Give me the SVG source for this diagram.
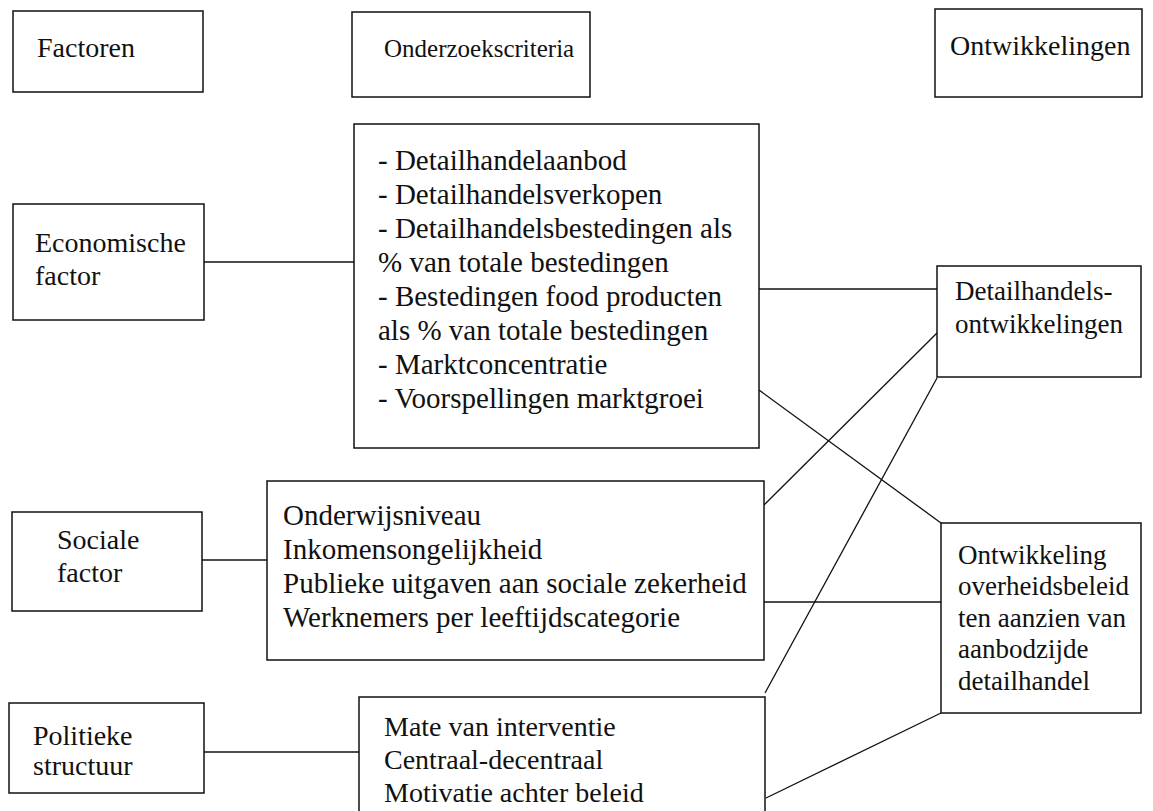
<svg xmlns="http://www.w3.org/2000/svg" width="1153" height="811" viewBox="0 0 1153 811">
<style>
.box{fill:#fff;stroke:#111;stroke-width:1.5}
.t{font-family:"Liberation Serif","Times New Roman",serif;fill:#111}
.f28{font-size:28px}
.f29{font-size:29px}
.f27{font-size:27px}
.c{stroke:#111;stroke-width:1.3;fill:none}
</style>
<rect width="1153" height="811" fill="#fff"/>
<g id="connectors">
<line class="c" x1="204" y1="262" x2="354" y2="262"/>
<line class="c" x1="202" y1="560" x2="267" y2="560"/>
<line class="c" x1="204" y1="752" x2="359" y2="752"/>
<line class="c" x1="759" y1="289" x2="937" y2="289"/>
<line class="c" x1="759" y1="390" x2="941" y2="523"/>
<line class="c" x1="764" y1="505" x2="937" y2="333"/>
<line class="c" x1="765" y1="693" x2="937" y2="378"/>
<line class="c" x1="764" y1="602" x2="941" y2="602"/>
<line class="c" x1="766" y1="798" x2="941" y2="713"/>
</g>
<g id="factoren"><rect class="box" x="13" y="11" width="190" height="81"/><text class="t f28" x="37" y="57">Factoren</text></g>
<g id="onderzoekscriteria"><rect class="box" x="352" y="12" width="238" height="85"/><text class="t" font-size="25" x="384" y="57">Onderzoekscriteria</text></g>
<g id="ontwikkelingen"><rect class="box" x="935" y="9" width="207" height="88"/><text class="t f28" x="950" y="55">Ontwikkelingen</text></g>
<g id="economische"><rect class="box" x="13" y="204" width="191" height="116"/><text class="t f28" x="35" y="252">Economische</text><text class="t f28" x="35" y="285">factor</text></g>
<g id="criteria-economisch"><rect class="box" x="354" y="124" width="405" height="324"/>
<text class="t f29" x="378"><tspan x="378" y="170">- Detailhandelaanbod</tspan><tspan x="378" y="204">- Detailhandelsverkopen</tspan><tspan x="378" y="238">- Detailhandelsbestedingen als</tspan><tspan x="378" y="272">% van totale bestedingen</tspan><tspan x="378" y="306">- Bestedingen food producten</tspan><tspan x="378" y="340">als % van totale bestedingen</tspan><tspan x="378" y="374">- Marktconcentratie</tspan><tspan x="378" y="408">- Voorspellingen marktgroei</tspan></text></g>
<g id="sociale"><rect class="box" x="12" y="512" width="190" height="99"/><text class="t f28" x="57" y="549">Sociale</text><text class="t f28" x="57" y="582">factor</text></g>
<g id="criteria-sociaal"><rect class="box" x="267" y="481" width="497" height="179"/>
<text class="t f29"><tspan x="283" y="525">Onderwijsniveau</tspan><tspan x="283" y="559">Inkomensongelijkheid</tspan><tspan x="283" y="593">Publieke uitgaven aan sociale zekerheid</tspan><tspan x="283" y="627">Werknemers per leeftijdscategorie</tspan></text></g>
<g id="politieke"><rect class="box" x="9" y="703" width="195" height="90"/><text class="t f28" x="33" y="745">Politieke</text><text class="t f28" x="33" y="775">structuur</text></g>
<g id="criteria-politiek"><rect class="box" x="359" y="697" width="406" height="130"/>
<text class="t f28"><tspan x="384" y="736">Mate van interventie</tspan><tspan x="384" y="769">Centraal-decentraal</tspan><tspan x="384" y="802">Motivatie achter beleid</tspan></text></g>
<g id="detailhandelsontwikkelingen"><rect class="box" x="937" y="266" width="204" height="111"/><text class="t f27"><tspan x="955" y="300">Detailhandels-</tspan><tspan x="955" y="333">ontwikkelingen</tspan></text></g>
<g id="overheidsbeleid"><rect class="box" x="941" y="523" width="200" height="190"/><text class="t f27"><tspan x="958" y="564">Ontwikkeling</tspan><tspan x="958" y="595">overheidsbeleid</tspan><tspan x="958" y="627">ten aanzien van</tspan><tspan x="958" y="658">aanbodzijde</tspan><tspan x="958" y="690">detailhandel</tspan></text></g>
</svg>
